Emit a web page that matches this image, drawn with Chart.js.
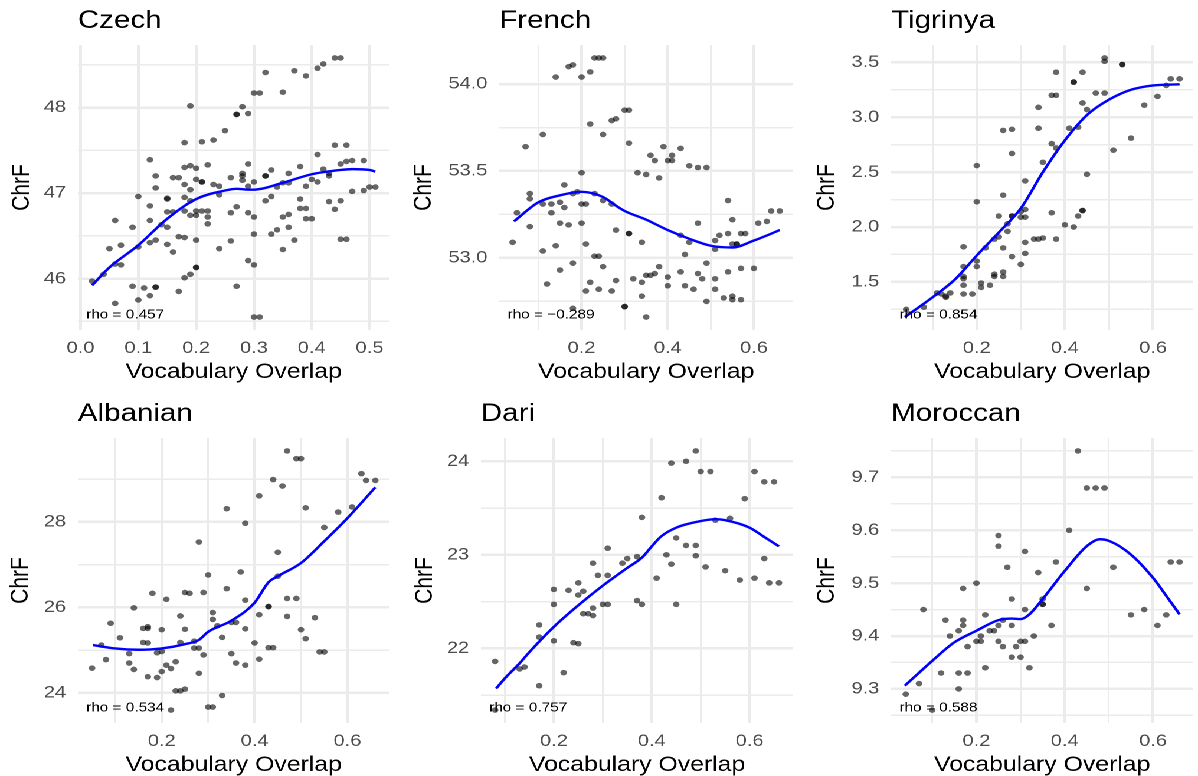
<!DOCTYPE html>
<html>
<head>
<meta charset="utf-8">
<script src="https://cdn.jsdelivr.net/npm/chart.js@4/dist/chart.umd.min.js"></script>
<style>
  html, body { margin: 0; padding: 0; background: #ffffff; overflow: hidden; }
  #stage { position: absolute; left: 0; top: 0; width: 1015px; height: 776px;
           transform: scaleX(1.1803); transform-origin: 0 0; }
  .panel { position: absolute; }
</style>
</head>
<body>
<div id="stage"></div>
<script>
// ---- data: [vocabulary overlap, chrF] per language ----
var czechPoints = [[0.02,45.97],[0.04,46.05],[0.05,46.35],[0.06,46.68],[0.06,46.17],[0.06,45.71],[0.07,46.39],[0.07,46.16],[0.09,46.6],[0.09,45.91],[0.10,46.96],[0.10,46.37],[0.10,45.75],[0.11,45.89],[0.12,47.39],[0.12,46.85],[0.12,46.68],[0.12,46.42],[0.12,45.8],[0.13,47.2],[0.13,47.06],[0.13,46.45],[0.13,45.9],[0.13,45.9],[0.14,46.63],[0.15,46.94],[0.15,46.93],[0.15,46.78],[0.15,46.6],[0.15,46.4],[0.16,47.18],[0.16,46.78],[0.16,46.31],[0.17,47.18],[0.17,46.49],[0.17,45.85],[0.18,47.59],[0.18,47.3],[0.18,47.1],[0.18,46.95],[0.18,46.79],[0.18,46.48],[0.18,46.01],[0.19,48.02],[0.19,47.32],[0.19,47.04],[0.19,46.91],[0.19,46.74],[0.19,46.05],[0.20,47.29],[0.20,47.16],[0.20,46.79],[0.20,46.74],[0.20,46.45],[0.20,46.13],[0.20,46.13],[0.21,47.6],[0.21,47.13],[0.21,47.13],[0.21,46.79],[0.22,47.33],[0.22,46.79],[0.22,46.72],[0.22,46.64],[0.23,47.62],[0.23,47.1],[0.24,47.08],[0.24,46.98],[0.24,46.35],[0.25,47.73],[0.26,47.18],[0.26,46.77],[0.26,46.44],[0.27,47.92],[0.27,47.92],[0.27,46.84],[0.27,45.91],[0.28,48.01],[0.28,47.23],[0.28,47.2],[0.28,47.15],[0.29,47.93],[0.29,47.34],[0.29,47.08],[0.29,46.77],[0.29,46.21],[0.30,48.17],[0.30,47.13],[0.30,46.72],[0.30,46.52],[0.30,46.16],[0.30,45.55],[0.31,48.17],[0.31,45.55],[0.32,48.41],[0.32,47.2],[0.32,47.2],[0.32,46.91],[0.33,47.27],[0.33,46.96],[0.33,46.52],[0.34,47.07],[0.34,46.57],[0.35,48.18],[0.35,47.12],[0.35,46.72],[0.35,46.34],[0.36,47.23],[0.36,47.12],[0.36,46.75],[0.36,46.6],[0.37,48.43],[0.37,46.45],[0.38,47.31],[0.38,46.93],[0.38,46.82],[0.39,48.37],[0.39,47.08],[0.39,46.82],[0.39,46.7],[0.40,47.16],[0.40,46.7],[0.41,48.46],[0.41,47.45],[0.41,47.13],[0.42,48.51],[0.42,47.28],[0.43,47.23],[0.43,47.2],[0.43,46.9],[0.44,48.58],[0.44,47.56],[0.44,46.81],[0.45,48.58],[0.45,47.34],[0.45,46.91],[0.45,46.46],[0.46,47.56],[0.46,47.37],[0.46,46.46],[0.47,47.38],[0.47,47.02],[0.49,47.38],[0.49,47.03],[0.50,47.07],[0.51,47.07]];
var czechFit = [[0.02,45.92],[0.05,46.13],[0.10,46.39],[0.15,46.7],[0.20,46.93],[0.25,47.03],[0.27,47.05],[0.29,47.04],[0.30,47.04],[0.35,47.12],[0.40,47.22],[0.45,47.27],[0.47,47.28],[0.50,47.27],[0.51,47.25]];

var frenchPoints = [[0.04,53.09],[0.05,53.26],[0.07,53.64],[0.08,53.37],[0.08,53.34],[0.08,53.18],[0.11,53.71],[0.11,53.31],[0.11,53.04],[0.12,52.85],[0.13,53.31],[0.13,53.26],[0.14,54.04],[0.14,53.07],[0.15,53.32],[0.15,53.2],[0.15,52.93],[0.16,53.42],[0.16,53.29],[0.17,54.1],[0.17,53.19],[0.18,54.11],[0.18,53.37],[0.18,52.97],[0.18,52.71],[0.19,53.38],[0.20,54.04],[0.20,53.49],[0.20,53.31],[0.20,53.2],[0.21,53.31],[0.21,53.08],[0.21,52.81],[0.22,54.07],[0.22,53.77],[0.22,52.86],[0.23,54.15],[0.23,53.37],[0.23,53.01],[0.24,54.15],[0.24,53.01],[0.24,52.82],[0.25,54.15],[0.25,53.71],[0.25,53.33],[0.25,52.95],[0.27,53.79],[0.27,53.31],[0.27,52.81],[0.28,53.8],[0.28,53.16],[0.28,52.87],[0.30,52.72],[0.30,52.72],[0.30,53.85],[0.31,53.85],[0.31,53.66],[0.31,53.14],[0.31,53.14],[0.32,52.88],[0.33,53.49],[0.34,53.09],[0.34,52.86],[0.34,52.78],[0.35,53.48],[0.35,52.9],[0.35,52.66],[0.36,53.59],[0.36,52.9],[0.37,53.56],[0.37,52.91],[0.38,53.46],[0.38,52.95],[0.39,53.64],[0.40,53.56],[0.40,52.89],[0.40,52.84],[0.41,53.59],[0.41,53.56],[0.43,53.63],[0.43,53.13],[0.43,52.92],[0.44,53.02],[0.44,52.84],[0.45,53.53],[0.45,53.09],[0.46,52.82],[0.47,53.52],[0.47,53.2],[0.47,52.91],[0.48,52.88],[0.49,53.52],[0.49,52.97],[0.49,52.75],[0.51,53.1],[0.51,53.05],[0.51,52.88],[0.51,52.82],[0.52,53.13],[0.53,52.77],[0.54,53.33],[0.54,53.14],[0.54,52.92],[0.55,53.22],[0.55,53.08],[0.55,52.78],[0.55,52.76],[0.56,53.08],[0.56,53.08],[0.57,53.14],[0.57,52.94],[0.57,52.76],[0.58,53.14],[0.60,52.94],[0.61,53.2],[0.63,53.21],[0.64,53.27],[0.66,53.27]];
var frenchFit = [[0.043,53.21],[0.10,53.32],[0.15,53.36],[0.20,53.38],[0.25,53.35],[0.28,53.3],[0.30,53.27],[0.35,53.22],[0.40,53.16],[0.45,53.11],[0.50,53.07],[0.55,53.06],[0.60,53.1],[0.66,53.16]];

var tigrinyaPoints = [[0.04,1.25],[0.08,1.27],[0.11,1.4],[0.12,1.39],[0.13,1.36],[0.13,1.37],[0.14,1.4],[0.17,1.82],[0.17,1.64],[0.17,1.55],[0.17,1.53],[0.17,1.47],[0.17,1.39],[0.19,1.39],[0.20,2.56],[0.20,2.23],[0.20,1.69],[0.20,1.64],[0.21,1.49],[0.21,1.45],[0.22,1.81],[0.23,1.47],[0.24,1.89],[0.24,1.57],[0.24,1.55],[0.25,2.1],[0.25,1.91],[0.26,2.88],[0.26,2.29],[0.26,1.81],[0.26,1.59],[0.26,1.55],[0.27,2.03],[0.27,1.96],[0.28,2.89],[0.28,2.67],[0.28,2.1],[0.28,2.1],[0.28,1.73],[0.30,1.66],[0.30,2.14],[0.30,2.09],[0.31,2.42],[0.31,2.16],[0.31,2.09],[0.31,1.86],[0.31,1.76],[0.33,1.89],[0.34,3.09],[0.34,2.9],[0.34,1.89],[0.35,2.59],[0.35,1.9],[0.37,2.76],[0.37,2.13],[0.37,3.2],[0.38,3.41],[0.38,3.2],[0.38,2.72],[0.38,1.89],[0.40,2.02],[0.41,2.9],[0.42,3.32],[0.42,3.32],[0.42,2.0],[0.43,2.91],[0.43,2.1],[0.44,3.41],[0.44,3.13],[0.44,2.15],[0.44,2.15],[0.45,3.07],[0.45,2.48],[0.47,3.22],[0.49,3.54],[0.49,3.51],[0.49,3.22],[0.51,2.7],[0.53,3.48],[0.53,3.48],[0.55,2.81],[0.58,3.11],[0.61,3.19],[0.63,3.29],[0.64,3.35],[0.66,3.35]];
var tigrinyaFit = [[0.037,1.18],[0.10,1.36],[0.15,1.52],[0.20,1.74],[0.25,1.95],[0.30,2.17],[0.35,2.5],[0.40,2.79],[0.45,3.02],[0.50,3.16],[0.55,3.25],[0.60,3.29],[0.66,3.3]];

var albanianPoints = [[0.05,24.58],[0.07,25.12],[0.08,24.78],[0.09,25.63],[0.11,25.29],[0.13,24.92],[0.13,24.7],[0.14,25.99],[0.14,24.55],[0.16,25.51],[0.16,25.18],[0.17,25.55],[0.17,25.51],[0.17,25.17],[0.17,24.38],[0.18,26.33],[0.19,24.94],[0.19,24.36],[0.20,25.48],[0.20,24.97],[0.20,24.5],[0.21,26.19],[0.21,24.65],[0.22,24.57],[0.22,23.6],[0.23,24.73],[0.23,24.05],[0.24,25.8],[0.24,25.18],[0.24,24.05],[0.25,26.35],[0.25,25.49],[0.25,24.09],[0.26,26.33],[0.27,25.21],[0.27,25.05],[0.28,27.53],[0.28,25.05],[0.28,24.46],[0.29,26.35],[0.29,24.89],[0.30,26.76],[0.30,23.67],[0.31,25.88],[0.31,25.72],[0.31,23.67],[0.32,25.57],[0.33,25.3],[0.33,23.94],[0.34,28.31],[0.34,26.44],[0.35,25.65],[0.35,24.92],[0.36,25.65],[0.36,24.7],[0.37,26.83],[0.38,27.97],[0.38,26.17],[0.38,25.5],[0.38,24.65],[0.40,25.17],[0.41,28.61],[0.41,25.83],[0.41,24.79],[0.43,26.02],[0.43,26.02],[0.43,25.06],[0.44,28.99],[0.44,25.06],[0.45,27.29],[0.45,26.73],[0.46,28.84],[0.47,29.66],[0.47,26.21],[0.47,25.79],[0.49,29.48],[0.49,26.21],[0.50,29.48],[0.50,25.48],[0.51,28.33],[0.51,25.27],[0.53,25.76],[0.54,24.96],[0.55,27.87],[0.55,24.96],[0.58,28.23],[0.61,28.35],[0.63,29.13],[0.64,28.97],[0.66,28.97]];
var albanianFit = [[0.052,25.12],[0.10,25.04],[0.15,25.01],[0.20,25.04],[0.25,25.14],[0.28,25.24],[0.30,25.43],[0.35,25.69],[0.40,26.11],[0.43,26.59],[0.45,26.73],[0.50,27.04],[0.55,27.55],[0.60,28.09],[0.66,28.81]];

var dariPoints = [[0.08,21.86],[0.08,21.34],[0.13,21.78],[0.14,21.8],[0.17,22.25],[0.17,22.12],[0.17,21.6],[0.20,22.63],[0.20,22.47],[0.20,22.08],[0.22,21.74],[0.23,22.62],[0.24,22.06],[0.25,22.7],[0.25,22.57],[0.25,22.05],[0.26,22.61],[0.26,22.37],[0.27,22.37],[0.28,22.91],[0.28,22.43],[0.28,22.35],[0.29,22.78],[0.30,22.47],[0.31,23.07],[0.31,22.78],[0.31,22.47],[0.34,22.91],[0.35,22.96],[0.37,22.98],[0.37,22.51],[0.38,23.4],[0.38,22.47],[0.41,22.75],[0.42,23.61],[0.43,23.0],[0.44,23.98],[0.44,22.9],[0.45,23.18],[0.45,22.47],[0.47,24.0],[0.47,23.1],[0.49,24.11],[0.49,23.1],[0.49,22.99],[0.50,23.89],[0.51,22.87],[0.52,23.89],[0.53,23.37],[0.55,22.83],[0.56,23.39],[0.58,22.73],[0.59,23.6],[0.61,23.89],[0.61,22.75],[0.63,23.78],[0.63,22.96],[0.64,22.7],[0.65,23.78],[0.66,22.7]];
var dariFit = [[0.082,21.57],[0.10,21.68],[0.13,21.84],[0.15,21.96],[0.20,22.23],[0.25,22.46],[0.30,22.67],[0.35,22.86],[0.38,22.97],[0.40,23.09],[0.42,23.2],[0.45,23.29],[0.50,23.36],[0.53,23.38],[0.55,23.37],[0.60,23.29],[0.63,23.19],[0.66,23.09]];

var moroccanPoints = [[0.04,9.29],[0.07,9.31],[0.08,9.45],[0.10,9.26],[0.12,9.33],[0.13,9.43],[0.14,9.40],[0.16,9.41],[0.16,9.33],[0.16,9.30],[0.17,9.49],[0.17,9.43],[0.17,9.42],[0.18,9.38],[0.18,9.33],[0.20,9.50],[0.20,9.39],[0.21,9.40],[0.21,9.39],[0.22,9.44],[0.22,9.34],[0.23,9.41],[0.24,9.41],[0.25,9.59],[0.25,9.57],[0.25,9.42],[0.25,9.39],[0.26,9.43],[0.26,9.38],[0.27,9.53],[0.28,9.47],[0.28,9.42],[0.28,9.36],[0.29,9.38],[0.30,9.39],[0.30,9.36],[0.31,9.56],[0.31,9.45],[0.31,9.39],[0.32,9.34],[0.33,9.40],[0.34,9.52],[0.35,9.47],[0.35,9.46],[0.35,9.46],[0.37,9.42],[0.38,9.54],[0.41,9.60],[0.43,9.75],[0.45,9.68],[0.45,9.49],[0.47,9.68],[0.49,9.68],[0.51,9.53],[0.55,9.44],[0.58,9.45],[0.61,9.42],[0.63,9.44],[0.64,9.54],[0.66,9.54]];
var moroccanFit = [[0.038,9.306],[0.10,9.353],[0.15,9.388],[0.20,9.41],[0.25,9.43],[0.28,9.433],[0.30,9.432],[0.32,9.441],[0.35,9.47],[0.40,9.523],[0.45,9.57],[0.48,9.583],[0.50,9.58],[0.55,9.554],[0.60,9.51],[0.63,9.476],[0.66,9.441]];

// ---- ticks: major values carry labels, minor values only draw a grid line ----
var czechXMajor = [0, 0.1, 0.2, 0.3, 0.4, 0.5];
var czechXLabels = ['0.0', '0.1', '0.2', '0.3', '0.4', '0.5'];
var czechXMinor = [0.05, 0.15, 0.25, 0.35, 0.45];
var overlapMajor = [0.2, 0.4, 0.6];
var overlapLabels = ['0.2', '0.4', '0.6'];
var overlapMinor = [0.1, 0.3, 0.5];

var czechYMajor = [46, 47, 48];
var czechYLabels = ['46', '47', '48'];
var czechYMinor = [45.5, 46.5, 47.5, 48.5];
var frenchYMajor = [53, 53.5, 54];
var frenchYLabels = ['53.0', '53.5', '54.0'];
var frenchYMinor = [52.75, 53.25, 53.75];
var tigrinyaYMajor = [1.5, 2, 2.5, 3, 3.5];
var tigrinyaYLabels = ['1.5', '2.0', '2.5', '3.0', '3.5'];
var tigrinyaYMinor = [1.25, 1.75, 2.25, 2.75, 3.25];
var albanianYMajor = [24, 26, 28];
var albanianYLabels = ['24', '26', '28'];
var albanianYMinor = [25, 27, 29];
var dariYMajor = [22, 23, 24];
var dariYLabels = ['22', '23', '24'];
var dariYMinor = [21.5, 22.5, 23.5];
var moroccanYMajor = [9.3, 9.4, 9.5, 9.6, 9.7];
var moroccanYLabels = ['9.3', '9.4', '9.5', '9.6', '9.7'];
var moroccanYMinor = [9.25, 9.35, 9.45, 9.55, 9.65, 9.75];

var panels = [
  { name: 'Czech', points: czechPoints, fit: czechFit, rho: 'rho = 0.457',
    x: [czechXMajor, czechXLabels, czechXMinor], y: [czechYMajor, czechYLabels, czechYMinor] },
  { name: 'French', points: frenchPoints, fit: frenchFit, rho: 'rho = \u22120.289',
    x: [overlapMajor, overlapLabels, overlapMinor], y: [frenchYMajor, frenchYLabels, frenchYMinor] },
  { name: 'Tigrinya', points: tigrinyaPoints, fit: tigrinyaFit, rho: 'rho = 0.854',
    x: [overlapMajor, overlapLabels, overlapMinor], y: [tigrinyaYMajor, tigrinyaYLabels, tigrinyaYMinor] },
  { name: 'Albanian', points: albanianPoints, fit: albanianFit, rho: 'rho = 0.534',
    x: [overlapMajor, overlapLabels, overlapMinor], y: [albanianYMajor, albanianYLabels, albanianYMinor] },
  { name: 'Dari', points: dariPoints, fit: dariFit, rho: 'rho = 0.757',
    x: [overlapMajor, overlapLabels, overlapMinor], y: [dariYMajor, dariYLabels, dariYMinor] },
  { name: 'Moroccan', points: moroccanPoints, fit: moroccanFit, rho: 'rho = 0.588',
    x: [overlapMajor, overlapLabels, overlapMinor], y: [moroccanYMajor, moroccanYLabels, moroccanYMinor] }
];

// where each panel sits on the stage, and how wide its y axis block is
var frames = [
  { left: 0,   top: 0,   width: 338, axisW: 66,   padR: 8, yTitlePad: 6 },
  { left: 338, top: 0,   width: 338, axisW: 85,   padR: 4, yTitlePad: 8.4 },
  { left: 676, top: 0,   width: 339, axisW: 79,   padR: 2, yTitlePad: 12.3 },
  { left: 0,   top: 393, width: 338, axisW: 66,   padR: 8, yTitlePad: 5 },
  { left: 338, top: 393, width: 338, axisW: 69.5, padR: 4, yTitlePad: 9.4 },
  { left: 676, top: 393, width: 339, axisW: 79,   padR: 2, yTitlePad: 12.3 }
];

Chart.defaults.font.family = '"Liberation Sans", Arial, Helvetica, sans-serif';

// small correlation note in the lower left corner of the plot area
var rhoLabel = {
  id: 'rhoLabel',
  afterDatasetsDraw: function (chart, args, opts) {
    var a = chart.chartArea, ctx = chart.ctx;
    ctx.save();
    ctx.font = '13px "Liberation Sans", Arial, sans-serif';
    ctx.fillStyle = '#000000';
    ctx.textBaseline = 'middle';
    ctx.textAlign = 'left';
    ctx.fillText(opts.text, a.left + 7, a.bottom - 15);
    ctx.restore();
  }
};

// ggplot style range: data extent padded by 5% each side
function expandRange(vals) {
  var lo = Math.min.apply(null, vals), hi = Math.max.apply(null, vals);
  var pad = (hi - lo) * 0.05;
  return [lo - pad, hi + pad];
}

function findIndex(list, v) {
  for (var i = 0; i < list.length; i++) {
    if (Math.abs(list[i] - v) < 1e-9) return i;
  }
  return -1;
}

function axisFor(spec, range, isX, frame) {
  var major = spec[0], labels = spec[1], minor = spec[2];
  var all = major.concat(minor).sort(function (a, b) { return a - b; });
  return {
    type: 'linear',
    position: isX ? 'bottom' : 'left',
    min: range[0],
    max: range[1],
    border: { display: false },
    grid: {
      color: '#ebebeb',
      drawTicks: false,
      lineWidth: function (c) {
        return findIndex(major, c.tick.value) >= 0 ? 2.5 : 1.5;
      }
    },
    ticks: {
      color: '#4d4d4d',
      font: { size: 17 },
      padding: isX ? 8 : 10,
      maxRotation: 0,
      callback: function (value) {
        var i = findIndex(major, value);
        return i >= 0 ? labels[i] : '';
      }
    },
    title: {
      display: true,
      text: isX ? 'Vocabulary Overlap' : 'ChrF',
      color: '#000000',
      font: { size: 21 },
      padding: isX ? { top: 0, bottom: 0 } : { top: frame.yTitlePad, bottom: 0 }
    },
    afterBuildTicks: function (scale) {
      scale.ticks = all.map(function (v) { return { value: v }; });
    },
    afterFit: function (scale) {
      if (isX) scale.height = 55;
      else scale.width = frame.axisW;
    }
  };
}

var stage = document.getElementById('stage');

panels.forEach(function (p, k) {
  var f = frames[k];
  var holder = document.createElement('div');
  holder.className = 'panel';
  holder.style.left = f.left + 'px';
  holder.style.top = f.top + 'px';
  holder.style.width = f.width + 'px';
  holder.style.height = '388px';
  var canvas = document.createElement('canvas');
  holder.appendChild(canvas);
  stage.appendChild(holder);

  var allPts = p.points.concat(p.fit);
  var xRange = expandRange(allPts.map(function (d) { return d[0]; }));
  var yRange = expandRange(allPts.map(function (d) { return d[1]; }));

  new Chart(canvas, {
    type: 'scatter',
    data: {
      datasets: [
        {
          type: 'line',
          data: p.fit.map(function (d) { return { x: d[0], y: d[1] }; }),
          borderColor: '#0000ff',
          borderWidth: 2.4,
          pointRadius: 0,
          fill: false,
          cubicInterpolationMode: 'monotone'
        },
        {
          data: p.points.map(function (d) { return { x: d[0], y: d[1] }; }),
          backgroundColor: 'rgba(0,0,0,0.6)',
          borderWidth: 0,
          pointRadius: 2.8
        }
      ]
    },
    options: {
      responsive: true,
      maintainAspectRatio: false,
      animation: false,
      devicePixelRatio: 2,
      layout: { padding: { left: 0, right: f.padR, top: 0, bottom: 3 } },
      plugins: {
        legend: { display: false },
        tooltip: { enabled: false },
        title: {
          display: true,
          text: p.name,
          align: 'start',
          fullSize: false,
          color: '#000000',
          font: { size: 25, weight: 'normal' },
          padding: { top: 6, bottom: 9 }
        },
        rhoLabel: { text: p.rho }
      },
      scales: {
        x: axisFor(p.x, xRange, true, f),
        y: axisFor(p.y, yRange, false, f)
      }
    },
    plugins: [rhoLabel]
  });
});
</script>
</body>
</html>
